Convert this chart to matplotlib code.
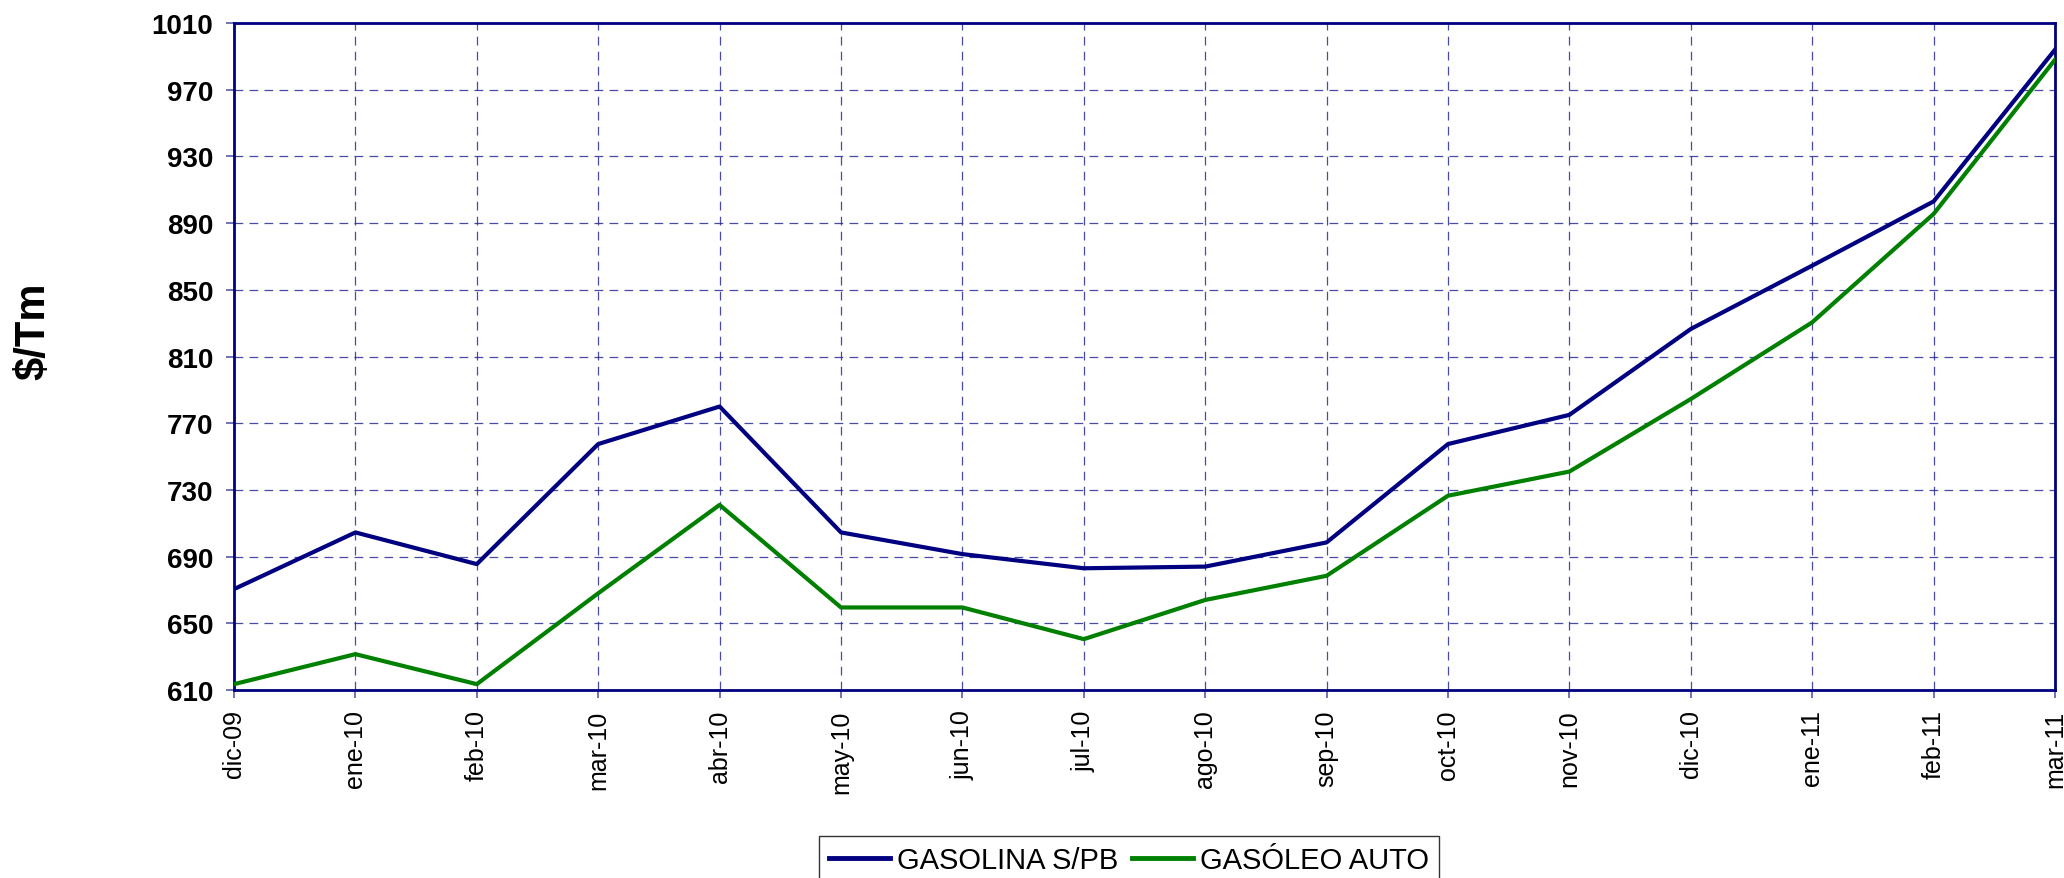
import matplotlib
matplotlib.use("Agg")
import matplotlib.pyplot as plt

# datos ($/Tm)
meses = ["dic-09", "ene-10", "feb-10", "mar-10", "abr-10", "may-10", "jun-10", "jul-10",
         "ago-10", "sep-10", "oct-10", "nov-10", "dic-10", "ene-11", "feb-11", "mar-11"]
gasolina = [670.5, 704.5, 685.5, 757.5, 780, 704.5, 691.5, 683, 684, 698.5, 757.5, 775, 826.5, 864.5, 903, 994]
gasoleo = [613.5, 631.5, 613.5, 668, 721, 659.5, 659.5, 640.5, 664, 678.5, 726.5, 741, 784.5, 830.5, 895.5, 988]
yticks = list(range(610, 1011, 40))

plt.rcParams["font.family"] = ["Liberation Sans", "DejaVu Sans"]

fig = plt.figure(figsize=(20.64, 8.79), dpi=100)
ax = fig.add_axes([234 / 2064, 1 - 691 / 879, (2055 - 234) / 2064, (691 - 24) / 879])

x = list(range(len(meses)))
ax.plot(x, gasolina, color="#000080", lw=3.0, label="GASOLINA S/PB", zorder=3)
ax.plot(x, gasoleo, color="#008000", lw=3.0, label="GASÓLEO AUTO", zorder=3)

ax.set_xlim(0, len(meses) - 1)
ax.set_ylim(610, 1010)
ax.set_xticks(x)
ax.set_xticklabels(meses, rotation=90, fontsize=18)
ax.set_yticks(yticks)
ax.set_yticklabels([str(v) for v in yticks], fontsize=20, fontweight="bold")

ax.grid(True, color="#2a2a98", lw=0.9, linestyle=(0, (7, 5)), alpha=0.85)
for s in ax.spines.values():
    s.set_color("#000080")
    s.set_linewidth(2.0)
ax.tick_params(axis="both", direction="out", length=6, width=1.2, color="#5a5ab0")
ax.tick_params(axis="y", pad=9)
ax.tick_params(axis="x", pad=8)

fig.text(33 / 2064, 1 - 331 / 879, "$/Tm", rotation=90, fontsize=30, fontweight="bold",
         ha="center", va="center")

leg = fig.legend(loc="upper center", bbox_to_anchor=(1129 / 2064, 1 - 837 / 879), ncol=2, fontsize=21,
                 frameon=True, fancybox=False, edgecolor="black", handlelength=2.1,
                 handletextpad=0.25, columnspacing=0.45, borderpad=0.35, borderaxespad=0)
leg.get_frame().set_linewidth(1.0)
for h in leg.get_lines():
    h.set_linewidth(3.5)

fig.savefig("out.png", dpi=100)
